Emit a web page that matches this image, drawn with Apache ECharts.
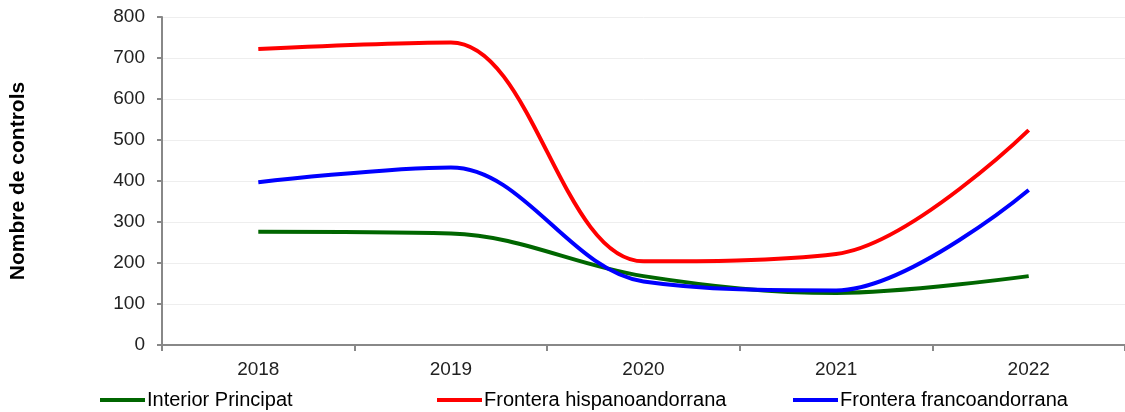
<!DOCTYPE html>
<html>
<head>
<meta charset="utf-8">
<script src="https://cdn.jsdelivr.net/npm/echarts@6/dist/echarts.min.js"></script>
<style>
  html, body { margin: 0; padding: 0; background: #fff; }
  #main { width: 1125px; height: 412px; }
</style>
</head>
<body>
<div id="main"></div>
<script>
var years = ['2018', '2019', '2020', '2021', '2022'];
var interior = [276, 272, 168, 127, 168];
var hispano = [722, 738, 204, 222, 524];
var franco = [397, 433, 155, 133, 378];
var names = ['Interior Principat', 'Frontera hispanoandorrana', 'Frontera francoandorrana'];
var colors = ['#006600', '#ff0000', '#0000ff'];

var chart = echarts.init(document.getElementById('main'));

function legendAt(name, left) {
    return {
        data: [name],
        left: left,
        top: 390,
        icon: 'rect',
        itemWidth: 45,
        itemHeight: 4,
        itemGap: 2,
        padding: 0,
        textStyle: { fontFamily: 'Liberation Sans', fontSize: 20, color: '#000', padding: [0, 0, 0, -3] }
    };
}

var option = {
    animation: false,
    color: colors,
    grid: { left: 158, right: -5, top: 17, bottom: 67 },
    legend: [
        legendAt(names[0], 100),
        legendAt(names[1], 437),
        legendAt(names[2], 793)
    ],
    xAxis: {
        type: 'category',
        data: years,
        boundaryGap: true,
        axisLine: { lineStyle: { color: '#888', width: 2 } },
        axisTick: { show: true, length: 6, lineStyle: { color: '#888', width: 2 } },
        axisLabel: { fontFamily: 'Liberation Sans', fontSize: 19, color: '#222', margin: 15 }
    },
    yAxis: {
        type: 'value',
        min: 0,
        max: 800,
        interval: 100,
        name: 'Nombre de controls',
        nameLocation: 'middle',
        nameGap: 133,
        nameTextStyle: { fontFamily: 'Liberation Sans', fontSize: 21, fontWeight: 'bold', color: '#000' },
        axisLine: { show: true, lineStyle: { color: '#888', width: 2 } },
        axisTick: { show: true, length: 5, lineStyle: { color: '#888', width: 2 } },
        axisLabel: { fontFamily: 'Liberation Sans', fontSize: 19, color: '#222', margin: 17 },
        splitLine: { lineStyle: { color: '#eeeeee', width: 1 } }
    },
    series: [
        { name: names[0], type: 'line', data: interior, smooth: 0.35, showSymbol: false, lineStyle: { width: 4 } },
        { name: names[1], type: 'line', data: hispano, smooth: 0.35, showSymbol: false, lineStyle: { width: 4 } },
        { name: names[2], type: 'line', data: franco, smooth: 0.35, showSymbol: false, lineStyle: { width: 4 } }
    ]
};
chart.setOption(option);
</script>
</body>
</html>
